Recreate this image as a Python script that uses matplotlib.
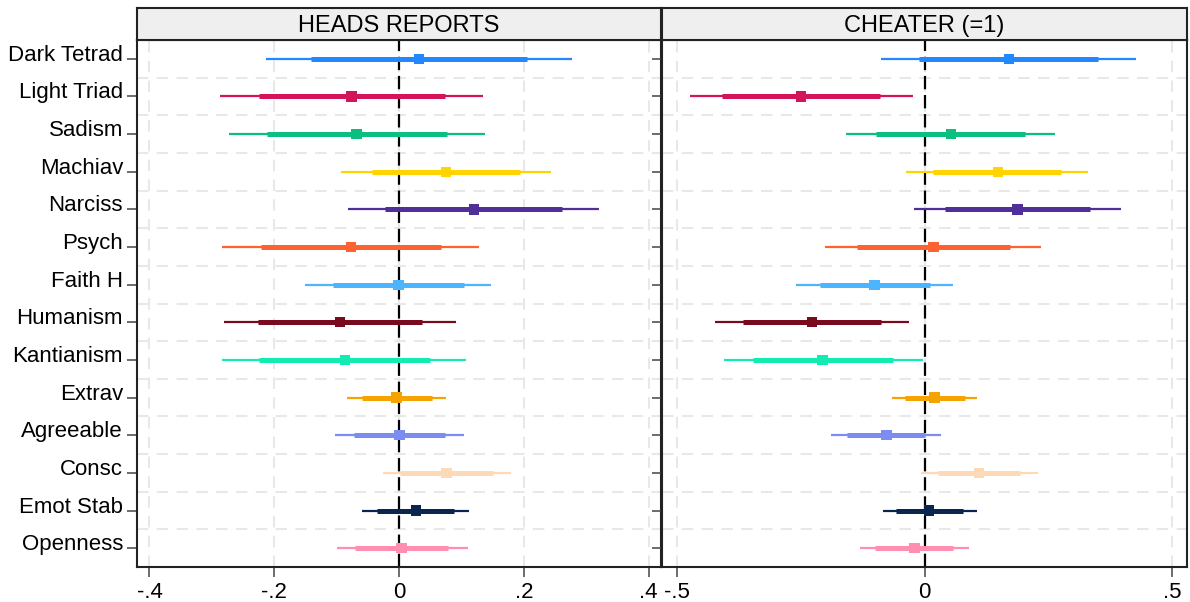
import matplotlib
matplotlib.use("Agg")
import matplotlib.pyplot as plt
from matplotlib.transforms import offset_copy
import numpy as np

plt.rcParams["font.family"] = ["Liberation Sans", "DejaVu Sans"]

# categories, top to bottom
labels = ["Dark Tetrad", "Light Triad", "Sadism", "Machiav", "Narciss", "Psych",
          "Faith H", "Humanism", "Kantianism", "Extrav", "Agreeable", "Consc",
          "Emot Stab", "Openness"]
colors = ["#2288ff", "#d3145a", "#0abf7f", "#ffd400", "#512f98", "#ff6231",
          "#4db4ff", "#7a0a1e", "#14ebb0", "#f5a300", "#7b8cf2", "#fdd9b5",
          "#0a2550", "#ff8eb0"]

# HEADS REPORTS: point, inner (thick) interval, outer (thin) interval
heads_b = [0.032, -0.076, -0.068, 0.075, 0.120, -0.077, -0.001, -0.095, -0.087,
           -0.004, 0.001, 0.076, 0.027, 0.004]
heads_lo_in = [-0.141, -0.225, -0.212, -0.044, -0.022, -0.222, -0.106, -0.226, -0.225,
               -0.060, -0.072, 0.002, -0.035, -0.070]
heads_hi_in = [0.205, 0.073, 0.077, 0.194, 0.261, 0.068, 0.104, 0.037, 0.050,
               0.053, 0.074, 0.150, 0.088, 0.078]
heads_lo_out = [-0.214, -0.287, -0.273, -0.093, -0.081, -0.283, -0.150, -0.281, -0.283,
                -0.084, -0.103, -0.026, -0.060, -0.100]
heads_hi_out = [0.278, 0.135, 0.138, 0.244, 0.320, 0.128, 0.147, 0.092, 0.108,
                0.076, 0.104, 0.180, 0.113, 0.110]

# CHEATER (=1)
cheat_b = [0.170, -0.249, 0.054, 0.148, 0.188, 0.018, -0.101, -0.227, -0.206,
           0.020, -0.077, 0.110, 0.009, -0.020]
cheat_lo_in = [-0.012, -0.408, -0.097, 0.017, 0.041, -0.136, -0.212, -0.366, -0.347,
               -0.040, -0.156, 0.027, -0.057, -0.100]
cheat_hi_in = [0.351, -0.090, 0.202, 0.276, 0.335, 0.172, 0.012, -0.088, -0.063,
               0.081, 0.000, 0.193, 0.077, 0.058]
cheat_lo_out = [-0.088, -0.473, -0.159, -0.037, -0.022, -0.201, -0.259, -0.424, -0.405,
                -0.066, -0.188, -0.008, -0.084, -0.131]
cheat_hi_out = [0.427, -0.024, 0.264, 0.330, 0.396, 0.236, 0.058, -0.031, -0.004,
                0.107, 0.033, 0.229, 0.105, 0.090]

panels = [
    ("HEADS REPORTS", heads_b, heads_lo_in, heads_hi_in, heads_lo_out, heads_hi_out,
     (-0.42, 0.42), [-0.4, -0.2, 0, 0.2, 0.4], ["-.4", "-.2", "0", ".2", ".4"]),
    ("CHEATER (=1)", cheat_b, cheat_lo_in, cheat_hi_in, cheat_lo_out, cheat_hi_out,
     (-0.53, 0.53), [-0.5, 0, 0.5], ["-.5", "0", ".5"]),
]

fig = plt.figure(figsize=(11.9, 6.02), dpi=100)
lefts = [137 / 1190, 662 / 1190]
widths = [524 / 1190, 525 / 1190]
bottom = 1 - 567 / 602
height = 527 / 602
strip_h = 32 / 602

y = np.arange(len(labels))
for i, (title, b, lo_in, hi_in, lo_out, hi_out, xlim, xt, xtl) in enumerate(panels):
    ax = fig.add_axes([lefts[i], bottom, widths[i], height])
    ax.hlines(y, lo_out, hi_out, colors=colors, lw=1.6, zorder=3)
    ax.hlines(y, lo_in, hi_in, colors=colors, lw=3.6, zorder=4)
    ax.scatter(b, y, marker="s", s=55, c=colors, zorder=5, linewidths=0)
    ax.axvline(0, color="black", lw=1.6, ls=(0, (6, 2.6)), zorder=2)

    ax.set_xlim(*xlim)
    ax.set_ylim(len(labels) - 0.5, -0.5)
    ax.set_xticks(xt)
    ax.set_xticklabels(xtl, fontsize=16)
    ax.set_yticks(y)
    ax.set_yticks(y[:-1] + 0.5, minor=True)
    ax.set_yticklabels([])
    if i == 0:
        # Stata puts the label baseline near the tick
        tr = offset_copy(ax.get_yaxis_transform(), fig=fig, x=-14, y=-2, units="dots")
        for yi, lab in zip(y, labels):
            ax.text(0, yi, lab, fontsize=16, ha="right", va="baseline", transform=tr)
    ax.tick_params(axis="both", which="major", length=7, width=1.1, color="#444444", pad=3.5)
    ax.tick_params(axis="y", which="minor", length=0)
    ax.grid(axis="x", which="major", color="#e8e8e8", lw=1.5, ls=(0, (5.5, 4)), zorder=1)
    ax.grid(axis="y", which="minor", color="#e8e8e8", lw=1.5, ls=(0, (5.5, 4)), zorder=1)
    for s in ax.spines.values():
        s.set_linewidth(1.5)
        s.set_color("#222222")

    sax = fig.add_axes([lefts[i], bottom + height, widths[i], strip_h])
    sax.set_facecolor("#efefef")
    sax.set_xticks([])
    sax.set_yticks([])
    for s in sax.spines.values():
        s.set_linewidth(1.5)
        s.set_color("#222222")
    sax.text(0.5, 0.45, title, ha="center", va="center", fontsize=17,
             transform=sax.transAxes)

fig.savefig("out.png", dpi=100, facecolor="white")
